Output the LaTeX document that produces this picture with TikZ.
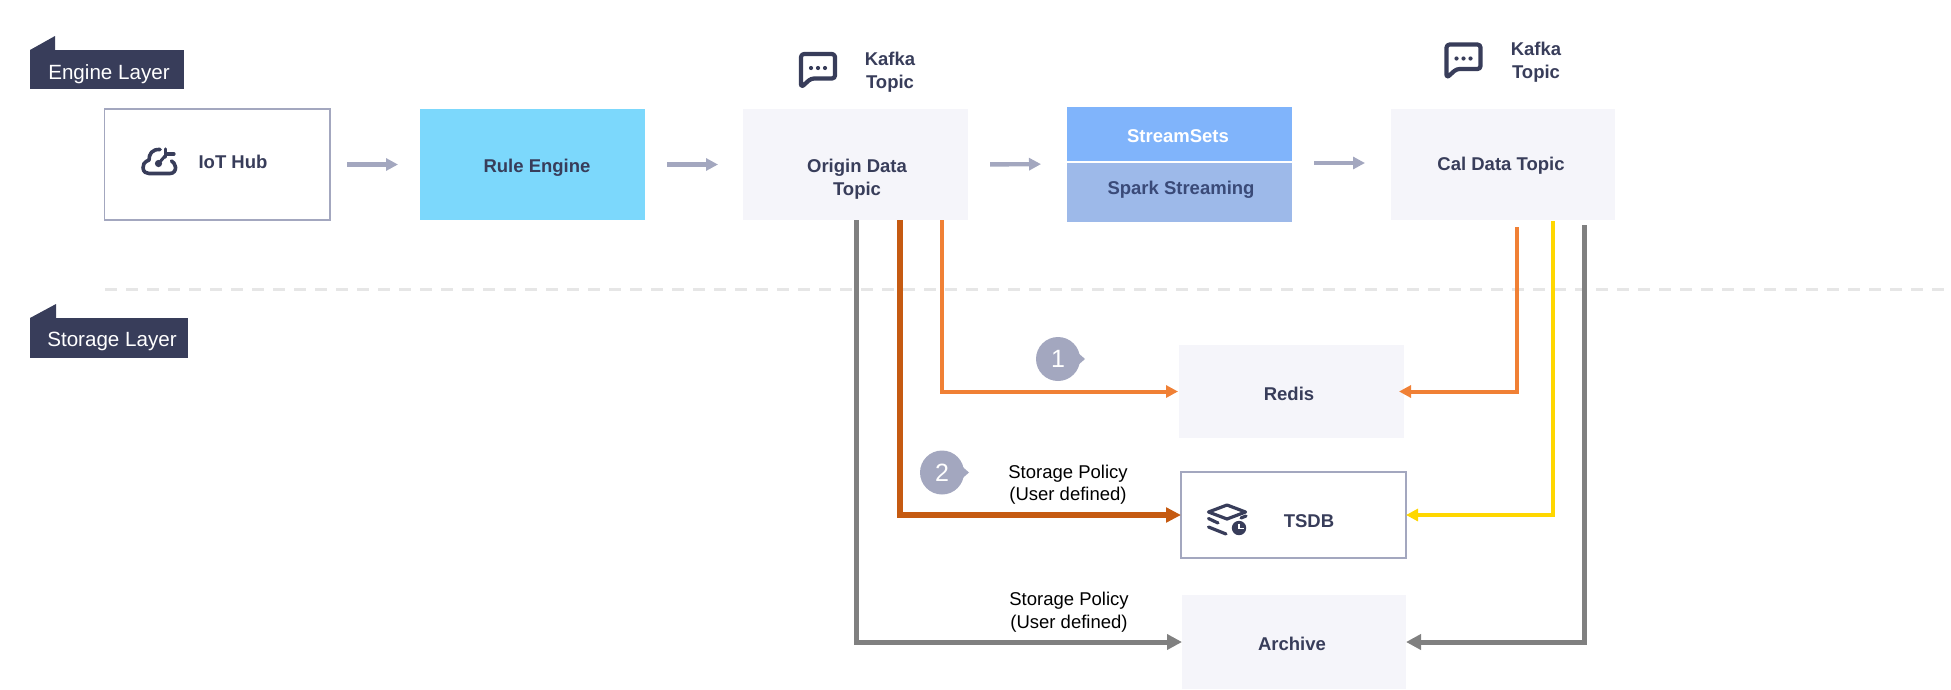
\documentclass[tikz,border=0pt]{standalone}
\usepackage{fontspec}
\setmainfont{Liberation Sans}
\usetikzlibrary{arrows.meta,calc}
\definecolor{ink}{HTML}{383D5A}
\definecolor{lav}{HTML}{A3A7BF}
\definecolor{pale}{HTML}{F5F5FA}
\definecolor{sky}{HTML}{7CD8FC}
\definecolor{ssblue}{HTML}{80B4FB}
\definecolor{spblue}{HTML}{9DB9E9}
\definecolor{sptext}{HTML}{3A4A78}
\definecolor{dashgrey}{HTML}{E6E6E6}
\definecolor{lineorange}{HTML}{F08035}
\definecolor{linerust}{HTML}{C55A11}
\definecolor{lineyellow}{HTML}{FFD700}
\definecolor{linegrey}{HTML}{808080}
\tikzset{
  x=1pt,y=-1pt,
  boxtext/.style={font=\bfseries\fontsize{18.5}{23}\selectfont,text=ink,align=center,inner sep=0pt},
  plainbox/.style={rectangle,inner sep=0pt,outer sep=0pt},
  palebox/.style={plainbox,fill=pale},
  linebox/.style={plainbox,draw=lav,line width=1.8pt,fill=white},
  tagbox/.style={plainbox,fill=ink},
  tagtext/.style={font=\fontsize{20.6}{24}\selectfont,text=white,inner sep=0pt},
  policy/.style={font=\fontsize{18.5}{22.5}\selectfont,text=black,align=center,inner sep=0pt},
  badge/.style={circle,fill=lav,text=white,inner sep=0pt,minimum size=44pt,outer sep=0pt,font=\fontsize{25}{30}\selectfont},
  flowarrow/.style={draw=lav,line width=4.4pt,-{Triangle[length=12pt,width=12pt]}},
  thinflow/.style={line width=4pt,-{Triangle[length=12pt,width=12pt]}},
  greyflow/.style={line width=5pt,-{Triangle[length=15pt,width=15pt]}},
  rustflow/.style={line width=5.8pt,-{Triangle[length=15pt,width=14.5pt]}},
  chaticon/.pic={
    \draw[ink,line width=4.2pt,line join=round,rounded corners=3pt]
      (-17,17) -- (-17,-16.5) -- (17,-16.5) -- (17,8) -- (-7,8) -- cycle;
    \fill[ink] (-7,-2.5) circle (2.1pt) (0,-2.5) circle (2.1pt) (7,-2.5) circle (2.1pt);
  }
}
\begin{document}
\begin{tikzpicture}
\useasboundingbox (0,0) rectangle (1951,689);

% layer tags
\node[tagbox,minimum width=154pt,minimum height=39pt] (etag) at (107,69.5) {};
\fill[ink] (etag.north west) -- ++(25,-14) -- ++(0,14) -- cycle;
\node[tagtext] (etagtext) at (109,74) {Engine Layer};
\node[tagbox,minimum width=157.5pt,minimum height=40pt] (stag) at (108.75,338) {};
\fill[ink] (stag.north west) -- ++(26,-14) -- ++(0,14) -- cycle;
\node[tagtext] (stagtext) at (112,341) {Storage Layer};

% separator
\coordinate (sepL) at (105,289);
\coordinate (sepR) at (1951,289);
\draw[dashgrey,line width=3pt,dash pattern=on 12pt off 9pt] (sepL) -- (sepR);

% engine row
\node[linebox,minimum width=225.5pt,minimum height=111pt] (iot) at (217.25,164.5) {};
\node[boxtext] (iottext) at (233,162) {IoT Hub};
\node[plainbox,fill=sky,minimum width=225pt,minimum height=111pt] (rule) at (532.5,164.5) {};
\node[boxtext] (ruletext) at (537,167.5) {Rule Engine};
\node[palebox,minimum width=225pt,minimum height=111pt] (origin) at (855.5,164.5) {};
\node[boxtext] (origintext) at (857,179.5) {Origin Data\\Topic};
\node[plainbox,fill=ssblue,minimum width=225pt,minimum height=54pt] (ss) at (1179.5,134) {};
\node[boxtext,text=white] (sstext) at (1178,136) {StreamSets};
\node[plainbox,fill=spblue,minimum width=225pt,minimum height=59pt] (spark) at (1179.5,192.2) {};
\node[boxtext,text=sptext] (sparktext) at (1181,189.5) {Spark Streaming};
\coordinate (streamW) at (ss.south west);
\coordinate (streamE) at (ss.south east);
\node[palebox,minimum width=224pt,minimum height=111pt] (cal) at (1503,164.5) {};
\node[boxtext] (caltext) at (1501,165.5) {Cal Data Topic};

% Kafka captions
\pic at (818,70.5) {chaticon};
\node[boxtext] (kafka1) at (890,72) {Kafka\\Topic};
\pic at (1463.5,61) {chaticon};
\node[boxtext] (kafka2) at (1536,62) {Kafka\\Topic};

% cloud icon
\draw[ink,line width=3.6pt,line cap=round,line join=round]
  (160,149.5) .. controls (152,149) and (149,154) .. (149,160)
  .. controls (144,162) and (142.5,165) .. (143,168)
  .. controls (143.5,172) and (146,173.5) .. (149,173.5)
  -- (170,173.5) .. controls (174,173.5) and (176,170) .. (175.5,167)
  .. controls (175,164) and (173.5,162) .. (171.5,161);
\draw[ink,line width=3.2pt,line cap=round] (165.5,149) -- (165.5,157);
\draw[ink,line width=3.2pt,line cap=round] (166,154) -- (174,154);
\draw[ink,line width=3pt,line cap=round] (159,163) -- (165,156);
\fill[ink] (158.5,163.5) circle (3.6pt);

% storage row
\node[palebox,minimum width=225pt,minimum height=93pt] (redis) at (1291.5,391.5) {};
\node[boxtext] (redistext) at (1289,394) {Redis};
\node[linebox,minimum width=225pt,minimum height=86pt] (tsdb) at (1293.5,515) {};
\node[boxtext] (tsdbtext) at (1309,521) {TSDB};
\node[palebox,minimum width=224pt,minimum height=94pt] (archive) at (1294,642) {};
\node[boxtext] (archivetext) at (1292,644) {Archive};

% tsdb icon
\draw[ink,line width=3.2pt,line join=round] (1208.5,512) -- (1227,505) -- (1245.5,512) -- (1227,519) -- cycle;
\draw[ink,line width=3.2pt,line cap=round] (1208.5,518.5) -- (1218,523);
\draw[ink,line width=3.2pt,line cap=round] (1208.5,527) -- (1226,534);
\draw[ink,line width=3.2pt,line cap=round] (1241,518) -- (1246,516);
\fill[ink] (1239,528) circle (7.2pt);
\draw[white,line width=1.4pt] (1239,523.5) -- (1239,528.5) -- (1243.5,528.5);

% short flow arrows
\draw[flowarrow,shorten <=17pt,shorten >=22pt] (iot.east) -- (rule.west);
\draw[flowarrow,shorten <=22pt,shorten >=25pt] (rule.east) -- (origin.west);
\draw[flowarrow,shorten <=22pt,shorten >=26pt] (origin.east) -- ($(streamW)+(0,3)$);
\draw[flowarrow,shorten <=22pt,shorten >=26pt] ($(streamE)+(0,2)$) -- (cal.west |- 0,163);

% origin branches
\coordinate (og) at (856.5,220);
\coordinate (or) at (900,220);
\coordinate (oo) at (942,220);
\draw[linegrey,greyflow] (og) |- (archive.west);
\draw[linerust,rustflow] (or) |- (tsdb.west);
\draw[lineorange,thinflow,shorten >=1pt] (oo) |- (redis.west);

% cal branches
\coordinate (co) at (1517,227);
\coordinate (cy) at (1553,221);
\coordinate (cg) at (1584,225);
\draw[lineorange,thinflow,shorten >=-5pt] (co) |- (redis.east);
\draw[lineyellow,thinflow] (cy) |- (tsdb.east);
\draw[linegrey,greyflow] (cg) |- (archive.east);

% badges
\node[badge] (b1) at (1058,359) {1};
\fill[lav] ($(b1.east)+(-3,-7)$) -- ($(b1.east)+(5,0)$) -- ($(b1.east)+(-3,7)$) -- cycle;
\node[badge] (b2) at (942,472.5) {2};
\fill[lav] ($(b2.east)+(-3,-7)$) -- ($(b2.east)+(5,0)$) -- ($(b2.east)+(-3,7)$) -- cycle;

% policy labels
\node[policy] (p1) at (1068,484.5) {Storage Policy\\(User defined)};
\node[policy] (p2) at (1069,612) {Storage Policy\\(User defined)};
\end{tikzpicture}
\end{document}
